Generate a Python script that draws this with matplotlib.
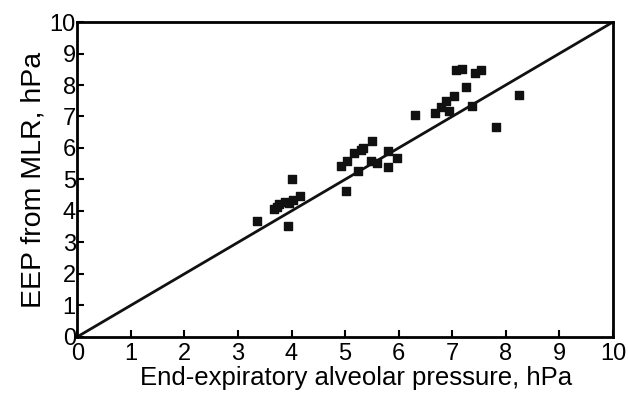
import matplotlib
matplotlib.use("Agg")
import matplotlib.pyplot as plt

plt.rcParams['font.family'] = ['Liberation Sans', 'DejaVu Sans']

# measured end-expiratory alveolar pressure (hPa)
eep_measured = [3.35, 4.00, 4.16, 4.03, 3.87, 3.76, 3.68, 3.72, 3.94, 3.95,
                4.92, 5.03, 5.16, 5.29, 5.34, 5.50, 5.48, 5.59, 5.80, 5.97,
                5.80, 5.24, 5.02, 6.31,
                7.07, 7.18, 7.42, 7.54, 7.25, 7.03, 6.89, 6.79, 6.68, 6.94,
                7.36, 8.25, 7.82]
# EEP predicted from MLR (hPa)
eep_mlr = [3.68, 5.02, 4.49, 4.34, 4.28, 4.23, 4.05, 4.12, 3.52, 4.25,
           5.44, 5.58, 5.83, 5.94, 6.00, 6.23, 5.58, 5.52, 5.90, 5.68,
           5.39, 5.28, 4.62, 7.06,
           8.48, 8.52, 8.38, 8.48, 7.95, 7.64, 7.50, 7.29, 7.10, 7.16,
           7.32, 7.68, 6.66]

ticks = list(range(0, 11))

fig = plt.figure(figsize=(6.28, 4.01), dpi=100)
ax = fig.add_axes([0.123, 0.16, 0.853, 0.785])

ax.plot([0, 10], [0, 10], color='#111111', lw=2)
ax.scatter(eep_measured, eep_mlr, marker='s', s=26, color='#111111', zorder=5)

ax.set_xlim(0, 10)
ax.set_ylim(0, 10)
ax.set_xticks(ticks)
ax.set_yticks(ticks)
ax.tick_params(direction='in', length=5, width=1.5, labelsize=17)
ax.tick_params(axis='x', pad=4.5)
ax.tick_params(axis='y', pad=1)
for s in ax.spines.values():
    s.set_linewidth(2)

ax.set_xlabel("End-expiratory alveolar pressure, hPa", fontsize=18.5, labelpad=1)
ax.xaxis.label.set_x(0.52)
ax.set_ylabel("EEP from MLR, hPa", fontsize=20.5, labelpad=2)

fig.savefig("out.png", dpi=100)
